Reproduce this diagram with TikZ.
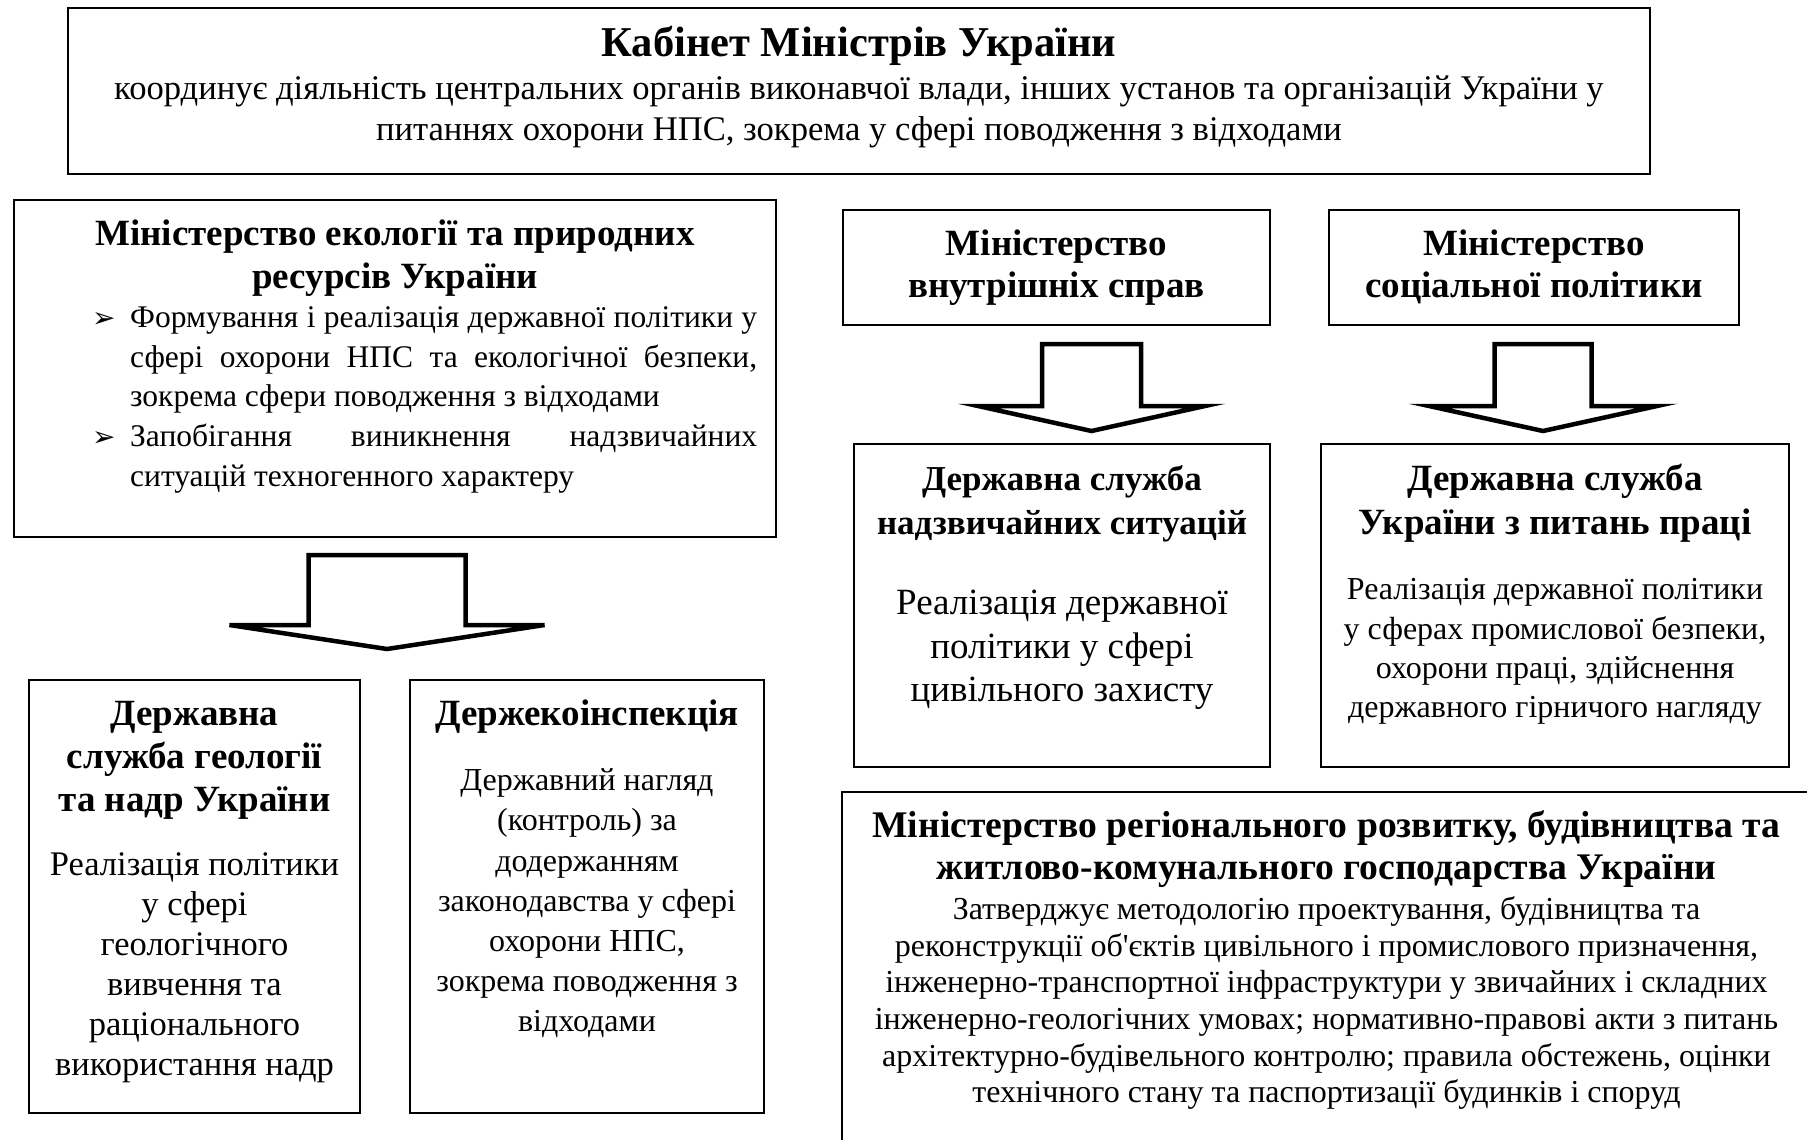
\documentclass[tikz,border=0pt]{standalone}
\usepackage{fontspec}
\setmainfont{Liberation Serif}
\newfontfamily\symfont{DejaVu Sans}
\usetikzlibrary{calc}

\newcommand{\fst}{\rule{0pt}{34pt}}
\newcommand{\fixspace}{\spaceskip=\fontdimen2\font\xspaceskip=\fontdimen2\font\relax}
\newcommand{\ttlfont}[2][37]{\fontsize{#1}{#2}\selectfont\bfseries\fixspace}
\newcommand{\txtfont}[2]{\fontsize{#1}{#2}\selectfont\fixspace}
\newcommand{\arritem}{\par\noindent\hangindent=38pt\hangafter=1%
  \makebox[38pt][l]{\symfont\fontsize{28}{28}\selectfont ➢}}
% top centre, half body, body length, half wing, head length
\newcommand{\blockarrow}[5]{%
  \draw[blockarr] #1 ++(-#2,0) -- ++(0,#3) -- ++(#2-#4,0) -- ++(#4,#5)
    -- ++(#4,-#5) -- ++(#2-#4,0) -- ++(0,-#3) -- cycle;}

\tikzset{
  box/.style={draw,line width=2pt,anchor=north west,inner sep=0pt},
  boxtext/.style={anchor=north,inner sep=0pt,align=center},
  blockarr/.style={draw,line width=4.5pt,line join=miter,fill=white}
}

\begin{document}
\begin{tikzpicture}[x=1pt,y=-1pt]
  \path[use as bounding box] (0,0) rectangle (1807,1140);
  \clip (0,0) rectangle (1807,1140);

  % boxes
  \node[box,minimum width=1582pt,minimum height=166pt] (cabinet) at (67,7) {};
  \node[box,minimum width=762pt,minimum height=337pt] (ecomin) at (13,199) {};
  \node[box,minimum width=331pt,minimum height=433pt] (geoserv) at (28,679) {};
  \node[box,minimum width=354pt,minimum height=433pt] (ecoinsp) at (409,679) {};
  \node[box,minimum width=427pt,minimum height=115pt] (mvs) at (842,209) {};
  \node[box,minimum width=410pt,minimum height=115pt] (socmin) at (1328,209) {};
  \node[box,minimum width=416pt,minimum height=323pt] (dsns) at (853,443) {};
  \node[box,minimum width=468pt,minimum height=323pt] (labour) at (1320,443) {};
  \node[box,minimum width=969pt,minimum height=420pt] (regmin) at (841,791) {};

  % texts
  \node[boxtext,text width=1582pt] (cabtxt) at ($(cabinet.north)+(0,15.5)$)
    {{\ttlfont[42.5]{44}\fst Кабінет Міністрів України\par}
     \vspace{2pt}
     {\txtfont{34.6}{41}координує діяльність центральних органів виконавчої влади, інших установ та організацій України у\\
      питаннях охорони НПС, зокрема у сфері поводження з відходами\par}};

  \node[boxtext,text width=762pt] (ecotitle) at ($(ecomin.north)+(0,12.5)$)
    {{\ttlfont{43}\fst Міністерство екології та природних\\ ресурсів України\par}};
  \node[anchor=north west,inner sep=0pt,text width=665pt,align=justify] (ecolist)
    at ($(ecomin.north west)+(79,88.5)$)
    {\txtfont{31.5}{39.75}\spaceskip=0pt\xspaceskip=0pt\parindent=0pt
     \arritem\fst Формування і реалізація державної політики у\linebreak
       сфері охорони НПС та екологічної безпеки,\linebreak
       зокрема сфери поводження з відходами
     \arritem Запобігання виникнення надзвичайних\linebreak
       ситуацій техногенного характеру\par};

  \node[boxtext,text width=331pt] (geotxt) at ($(geoserv.north)+(0,12.5)$)
    {{\ttlfont{43}\fst Державна\\ служба геології\\ та надр України\par}
     \vspace{24pt}
     {\txtfont{34.5}{40}Реалізація політики\\ у сфері\\ геологічного\\ вивчення та\\
      раціонального\\ використання надр\par}};

  \node[boxtext,text width=354pt] (insptxt) at ($(ecoinsp.north)+(0,12.5)$)
    {{\ttlfont{43}\fst Держекоінспекція\par}
     \vspace{24.8pt}
     {\txtfont{32}{40.2}Державний нагляд\\ (контроль) за\\ додержанням\\
      законодавства у сфері\\ охорони НПС,\\ зокрема поводження з\\ відходами\par}};

  \node[boxtext,text width=427pt] (mvstxt) at ($(mvs.north)+(0,12.5)$)
    {{\ttlfont{42}\fst Міністерство\\ внутрішніх справ\par}};
  \node[boxtext,text width=410pt] (soctxt) at ($(socmin.north)+(0,12.5)$)
    {{\ttlfont{42}\fst Міністерство\\ соціальної політики\par}};

  \node[boxtext,text width=416pt] (dsnstxt) at ($(dsns.north)+(0,13.5)$)
    {{\ttlfont[35]{44}\fst Державна служба\\ надзвичайних ситуацій\par}
     \vspace{36.5pt}
     {\txtfont{37}{43.5}Реалізація державної\\ політики у сфері\\ цивільного захисту\par}};

  \node[boxtext,text width=468pt] (labtxt) at ($(labour.north)+(0,13.5)$)
    {{\ttlfont{44}\fst Державна служба\\ України з питань праці\par}
     \vspace{25.7pt}
     {\txtfont{32}{39.3}Реалізація державної політики\\ у сферах промислової безпеки,\\
      охорони праці, здійснення\\ державного гірничого нагляду\par}};

  \node[boxtext,text width=969pt] (regtxt) at ($(regmin.north)+(0,12.5)$)
    {{\ttlfont[37.6]{42}\fst Міністерство регіонального розвитку, будівництва та\\
      житлово-комунального господарства України\par}
     \vspace{3.4pt}
     {\txtfont{32}{36.6}Затверджує методологію проектування, будівництва та\\
      реконструкції об\textquotesingle{}єктів цивільного і промислового призначення,\\
      інженерно-транспортної інфраструктури у звичайних і складних\\
      інженерно-геологічних умовах; нормативно-правові акти з питань\\
      архітектурно-будівельного контролю; правила обстежень, оцінки\\
      технічного стану та паспортизації будинків і споруд\par}};

  % block arrows
  \blockarrow{($(ecomin.south)+(-8,17)$)}{78.5}{70}{157.5}{24}
  \blockarrow{($(mvs.south)+(35,18)$)}{49.5}{62}{113.5}{25}
  \blockarrow{($(socmin.south)+(9,18)$)}{48.5}{62}{114}{25}
\end{tikzpicture}
\end{document}
